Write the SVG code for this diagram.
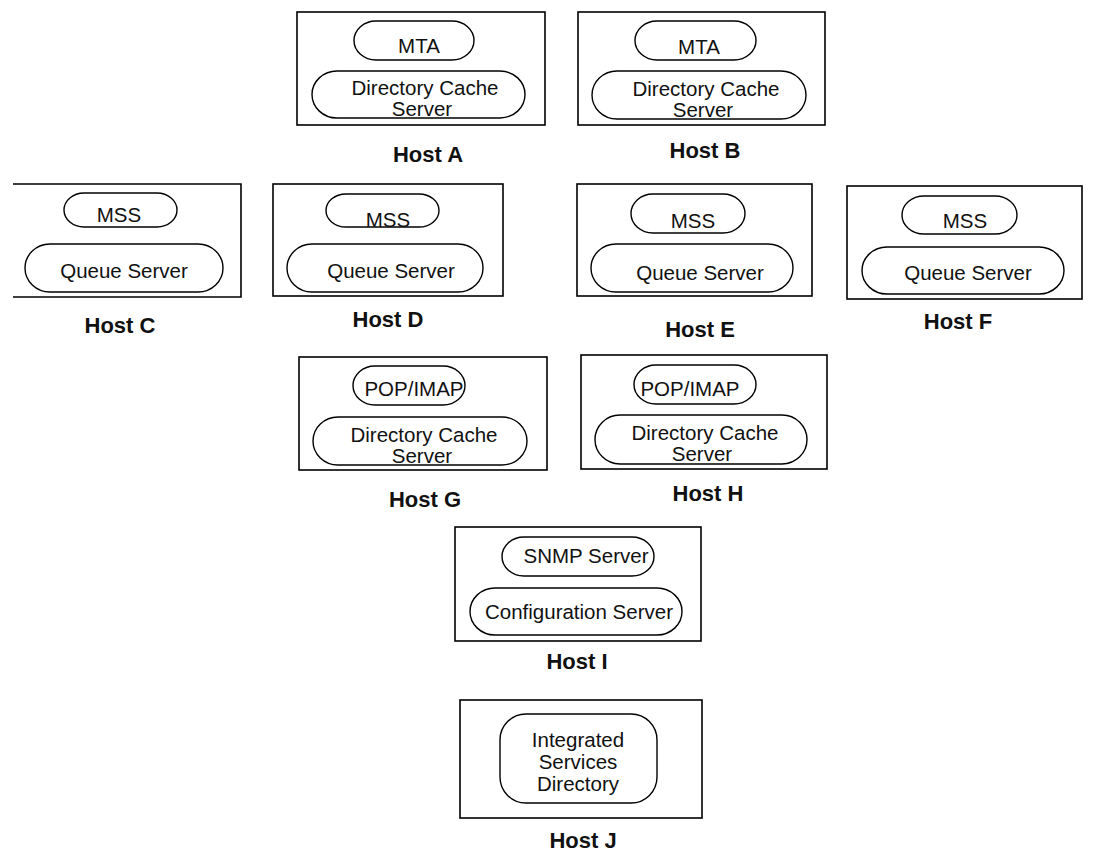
<svg xmlns="http://www.w3.org/2000/svg" width="1111" height="856" viewBox="0 0 1111 856">
  <style>
    .host { fill: #ffffff; stroke: #000000; stroke-width: 1.6; }
    .svc { fill: none; stroke: #000000; stroke-width: 1.4; }
    .t { font-family: "Liberation Sans", Arial, Helvetica, sans-serif; font-size: 20.5px; fill: #111111; text-anchor: middle; }
    .lbl { font-family: "Liberation Sans", Arial, Helvetica, sans-serif; font-size: 22px; font-weight: bold; fill: #111111; text-anchor: middle; }
  </style>
  <rect width="1111" height="856" fill="#ffffff"/>

  <!-- Host A -->
  <g id="host-a">
    <rect class="host" x="297" y="12" width="248" height="113"/>
    <rect class="svc" x="354" y="21" width="120" height="39" rx="22" ry="19.5"/>
    <text class="t" x="419" y="53">MTA</text>
    <rect class="svc" x="312" y="71" width="213" height="47" rx="25" ry="23.5"/>
    <text class="t" x="425" y="95">Directory Cache</text>
    <text class="t" x="422" y="116">Server</text>
    <text class="lbl" x="428" y="162">Host A</text>
  </g>

  <!-- Host B -->
  <g id="host-b">
    <rect class="host" x="578" y="12" width="247" height="113"/>
    <rect class="svc" x="635" y="21" width="121" height="39" rx="22" ry="19.5"/>
    <text class="t" x="699" y="54">MTA</text>
    <rect class="svc" x="592" y="71" width="214" height="48" rx="25" ry="24"/>
    <text class="t" x="706" y="96">Directory Cache</text>
    <text class="t" x="703" y="117">Server</text>
    <text class="lbl" x="705" y="158">Host B</text>
  </g>

  <!-- Host C (left side runs off the page) -->
  <g id="host-c">
    <path class="host" d="M13,184 H241 V297 H13"/>
    <rect class="svc" x="64" y="193" width="113" height="34" rx="20" ry="17"/>
    <text class="t" x="119" y="222">MSS</text>
    <rect class="svc" x="25" y="244" width="198" height="48" rx="25" ry="24"/>
    <text class="t" x="124" y="278">Queue Server</text>
    <text class="lbl" x="120" y="333">Host C</text>
  </g>

  <!-- Host D -->
  <g id="host-d">
    <rect class="host" x="273" y="184" width="230" height="112"/>
    <rect class="svc" x="326" y="194" width="113" height="33" rx="20" ry="16.5"/>
    <text class="t" x="388" y="227">MSS</text>
    <rect class="svc" x="287" y="244" width="196" height="48" rx="25" ry="24"/>
    <text class="t" x="391" y="278">Queue Server</text>
    <text class="lbl" x="388" y="327">Host D</text>
  </g>

  <!-- Host E -->
  <g id="host-e">
    <rect class="host" x="577" y="184" width="235" height="112"/>
    <rect class="svc" x="631" y="194" width="114" height="39" rx="22" ry="19.5"/>
    <text class="t" x="693" y="228">MSS</text>
    <rect class="svc" x="591" y="244" width="202" height="48" rx="25" ry="24"/>
    <text class="t" x="700" y="280">Queue Server</text>
    <text class="lbl" x="700" y="337">Host E</text>
  </g>

  <!-- Host F -->
  <g id="host-f">
    <rect class="host" x="847" y="186" width="235" height="113"/>
    <rect class="svc" x="902" y="196" width="115" height="38" rx="22" ry="19"/>
    <text class="t" x="965" y="228">MSS</text>
    <rect class="svc" x="862" y="247" width="202" height="47" rx="25" ry="23.5"/>
    <text class="t" x="968" y="280">Queue Server</text>
    <text class="lbl" x="958" y="329">Host F</text>
  </g>

  <!-- Host G -->
  <g id="host-g">
    <rect class="host" x="299" y="357" width="248" height="113"/>
    <rect class="svc" x="353" y="366" width="112" height="39" rx="22" ry="19.5"/>
    <text class="t" x="414" y="396">POP/IMAP</text>
    <rect class="svc" x="313" y="417" width="214" height="48" rx="25" ry="24"/>
    <text class="t" x="424" y="442">Directory Cache</text>
    <text class="t" x="422" y="463">Server</text>
    <text class="lbl" x="425" y="507">Host G</text>
  </g>

  <!-- Host H -->
  <g id="host-h">
    <rect class="host" x="581" y="355" width="246" height="114"/>
    <rect class="svc" x="634" y="365" width="122" height="39" rx="22" ry="19.5"/>
    <text class="t" x="690" y="396">POP/IMAP</text>
    <rect class="svc" x="595" y="415" width="212" height="49" rx="25" ry="24.5"/>
    <text class="t" x="705" y="440">Directory Cache</text>
    <text class="t" x="702" y="461">Server</text>
    <text class="lbl" x="708" y="501">Host H</text>
  </g>

  <!-- Host I -->
  <g id="host-i">
    <rect class="host" x="455" y="527" width="246" height="114"/>
    <rect class="svc" x="502" y="537" width="152" height="39" rx="22" ry="19.5"/>
    <text class="t" x="586" y="563">SNMP Server</text>
    <rect class="svc" x="470" y="588" width="212" height="47" rx="25" ry="23.5"/>
    <text class="t" x="579" y="619">Configuration Server</text>
    <text class="lbl" x="577" y="669">Host I</text>
  </g>

  <!-- Host J -->
  <g id="host-j">
    <rect class="host" x="460" y="700" width="242" height="118"/>
    <rect class="svc" x="500" y="714" width="157" height="89" rx="26" ry="26"/>
    <text class="t" x="578" y="747">Integrated</text>
    <text class="t" x="578" y="769">Services</text>
    <text class="t" x="578" y="791">Directory</text>
    <text class="lbl" x="583" y="848">Host J</text>
  </g>

  <!-- no connectors are drawn between hosts -->
  <g id="connectors"/>
</svg>
